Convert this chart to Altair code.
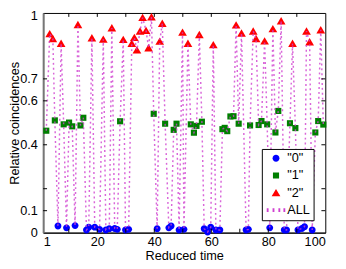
import altair as alt
import pandas as pd

# series "0" (blue circles)
t0 = [6.2, 9.2, 12.2, 16.2, 17.0, 19.1, 20.8, 23.0, 24.2, 26.1, 27.0, 29.9, 31.0, 41.0, 45.1, 45.9,
      48.7, 50.4, 57.5, 58.7, 59.8, 61.6, 63.0, 72.2, 73.0, 80.5, 85.6, 86.4, 90.4, 91.8, 92.7, 95.4]
v0 = [0.030, 0.022, 0.032, 0.012, 0.025, 0.025, 0.015, 0.012, 0.018, 0.019, 0.015, 0.012, 0.015, 0.018,
      0.022, 0.030, 0.012, 0.015, 0.018, 0.003, 0.025, 0.012, 0.012, 0.012, 0.015, 0.022, 0.012, 0.012,
      0.012, 0.019, 0.027, 0.012]

# series "1" (green squares)
t1 = [2.1, 5.1, 8.2, 10.1, 11.2, 14.1, 15.1, 28.0, 39.8, 43.8, 46.8, 47.8, 52.8, 53.9, 54.8, 56.7, 63.9,
      64.7, 65.6, 66.7, 67.8, 69.6, 73.6, 76.6, 77.6, 79.6, 82.5, 83.5, 87.6, 89.5, 96.5, 97.5, 99.3]
v1 = [0.464, 0.511, 0.493, 0.501, 0.484, 0.488, 0.523, 0.507, 0.541, 0.496, 0.468, 0.496, 0.493, 0.455,
      0.486, 0.505, 0.471, 0.477, 0.462, 0.529, 0.530, 0.496, 0.488, 0.490, 0.508, 0.493, 0.456, 0.554,
      0.498, 0.476, 0.456, 0.508, 0.492]

# series "2" (red triangles)
t2 = [3.3, 4.4, 7.3, 13.2, 18.1, 22.1, 25.1, 29.1, 32.1, 33.0, 33.9, 35.0, 35.9, 37.1, 38.0, 39.0, 41.9,
      42.8, 49.9, 51.8, 55.8, 60.7, 68.7, 70.6, 74.7, 75.7, 78.7, 81.6, 84.5, 88.5, 93.4, 94.5, 98.4]
v2 = [0.905, 0.883, 0.861, 0.947, 0.886, 0.880, 0.932, 0.879, 0.861, 0.888, 0.831, 0.917, 0.979, 0.920,
      0.841, 0.982, 0.871, 0.952, 0.912, 0.861, 0.901, 0.855, 0.945, 0.908, 0.917, 0.883, 0.872, 0.928,
      0.964, 0.861, 0.917, 0.868, 0.923]

series_names = ['"0"', '"1"', '"2"', 'ALL']
series_colors = ["#0000ff", "#007f00", "#ff0000", "#d040d0"]
# symbol paths (unit box -1..1), drawn small inside a large symbol box
circle_sym = "M-0.37,0A0.37,0.37 0 1,0 0.37,0A0.37,0.37 0 1,0 -0.37,0Z"
square_sym = "M-0.33,-0.33h0.66v0.66h-0.66Z"
tri_sym = "M0,-0.42L0.47,0.38L-0.47,0.38Z"
all_sym = ("M-1,-0.2h0.2v0.4h-0.2Z M-0.37,-0.2h0.2v0.4h-0.2Z "
           "M0.26,-0.2h0.2v0.4h-0.2Z M0.8,-0.2h0.2v0.4h-0.2Z")
series_shapes = [circle_sym, square_sym, tri_sym, all_sym]

x_labels = [1, 20, 40, 60, 80, 100]
x_ticks = [10, 20, 30, 40, 50, 60, 70, 80, 90]
y_labels = [0, 0.1, 0.2, 0.4, 0.6, 0.7, 1]
y_ticks = [0.1, 0.2, 0.4, 0.6, 0.7]

FONT = "Liberation Sans"
SYM = 361

df0 = pd.DataFrame({"t": t0, "v": v0, "s": series_names[0]})
df1 = pd.DataFrame({"t": t1, "v": v1, "s": series_names[1]})
df2 = pd.DataFrame({"t": t2, "v": v2, "s": series_names[2]})
df_all = pd.concat([df0, df1, df2]).sort_values("t").reset_index(drop=True)

xscale = alt.Scale(domain=[1, 100], nice=False, zero=False)
yscale = alt.Scale(domain=[0, 1], nice=False)

legend = alt.Legend(title=None, orient="none", legendX=224, legendY=139.3, padding=3,
                    strokeColor="black", fillColor="white", symbolSize=SYM,
                    symbolOffset=2, labelOffset=2, labelFontSize=13, labelFont=FONT,
                    labelColor="black", rowPadding=3.7, columnPadding=0, clipHeight=13,
                    symbolStrokeWidth=0)
color = alt.Color("s:N", scale=alt.Scale(domain=series_names, range=series_colors), legend=legend)
shape = alt.Shape("s:N", scale=alt.Scale(domain=series_names, range=series_shapes), legend=legend)

xaxis = alt.Axis(values=x_labels, format="d", title="Reduced time", labelPadding=3,
                 titlePadding=2, tickSize=0, domainColor="black", grid=False, labelOverlap=False)
yaxis = alt.Axis(values=y_labels, labelExpr="datum.value == 0.2 ? '' : format(datum.value, '~g')",
                 labelOffset={"condition": {"test": "datum.value == 1", "value": 3}, "value": 0},
                 title="Relative coincidences", labelPadding=6, tickSize=0,
                 titleX=-25, titleY=112.5, titleBaseline="alphabetic", titleAlign="center",
                 domainColor="#777777", domainWidth=2, grid=False, labelOverlap=False)

X = alt.X("t:Q", scale=xscale, axis=xaxis)
Y = alt.Y("v:Q", scale=yscale, axis=yaxis)

def pts(df):
    return alt.Chart(df).mark_point(filled=True, size=SYM, opacity=1).encode(
        x=X, y=Y, color=color, shape=shape)

p0 = pts(df0)
p1 = pts(df1)
p2 = pts(df2)

line = alt.Chart(df_all).mark_line(strokeDash=[2, 3], strokeWidth=1.5, color="#d040d0",
                                   opacity=0.8).encode(x=X, y=Y, order="t:Q")

xt = pd.DataFrame({"t": x_ticks})
yt = pd.DataFrame({"v": y_ticks})
tick_top = alt.Chart(xt).mark_rule(color="black").encode(
    x=X, y=alt.value(0), y2=alt.value(4))
tick_bot = alt.Chart(xt).mark_rule(color="black").encode(
    x=X, y=alt.value(225), y2=alt.value(221))
tick_left = alt.Chart(yt).mark_rule(color="black").encode(
    y=Y, x=alt.value(0), x2=alt.value(4))
tick_right = alt.Chart(yt).mark_rule(color="black").encode(
    y=Y, x=alt.value(285), x2=alt.value(289))

chart = alt.layer(p0, p1, p2, line, tick_top, tick_bot, tick_left, tick_right).properties(
    width=289, height=225,
    autosize=alt.AutoSizeParams(type="none"),
    padding={"left": 36, "top": 2, "right": 13, "bottom": 28},
).configure_axis(
    labelFont=FONT, titleFont=FONT, labelFontSize=13, titleFontSize=13,
    titleFontWeight="normal", labelColor="black", titleColor="black",
).configure_view(stroke="black", strokeWidth=1)

chart.save("out.html", embed_options={"renderer": "svg", "actions": False})
